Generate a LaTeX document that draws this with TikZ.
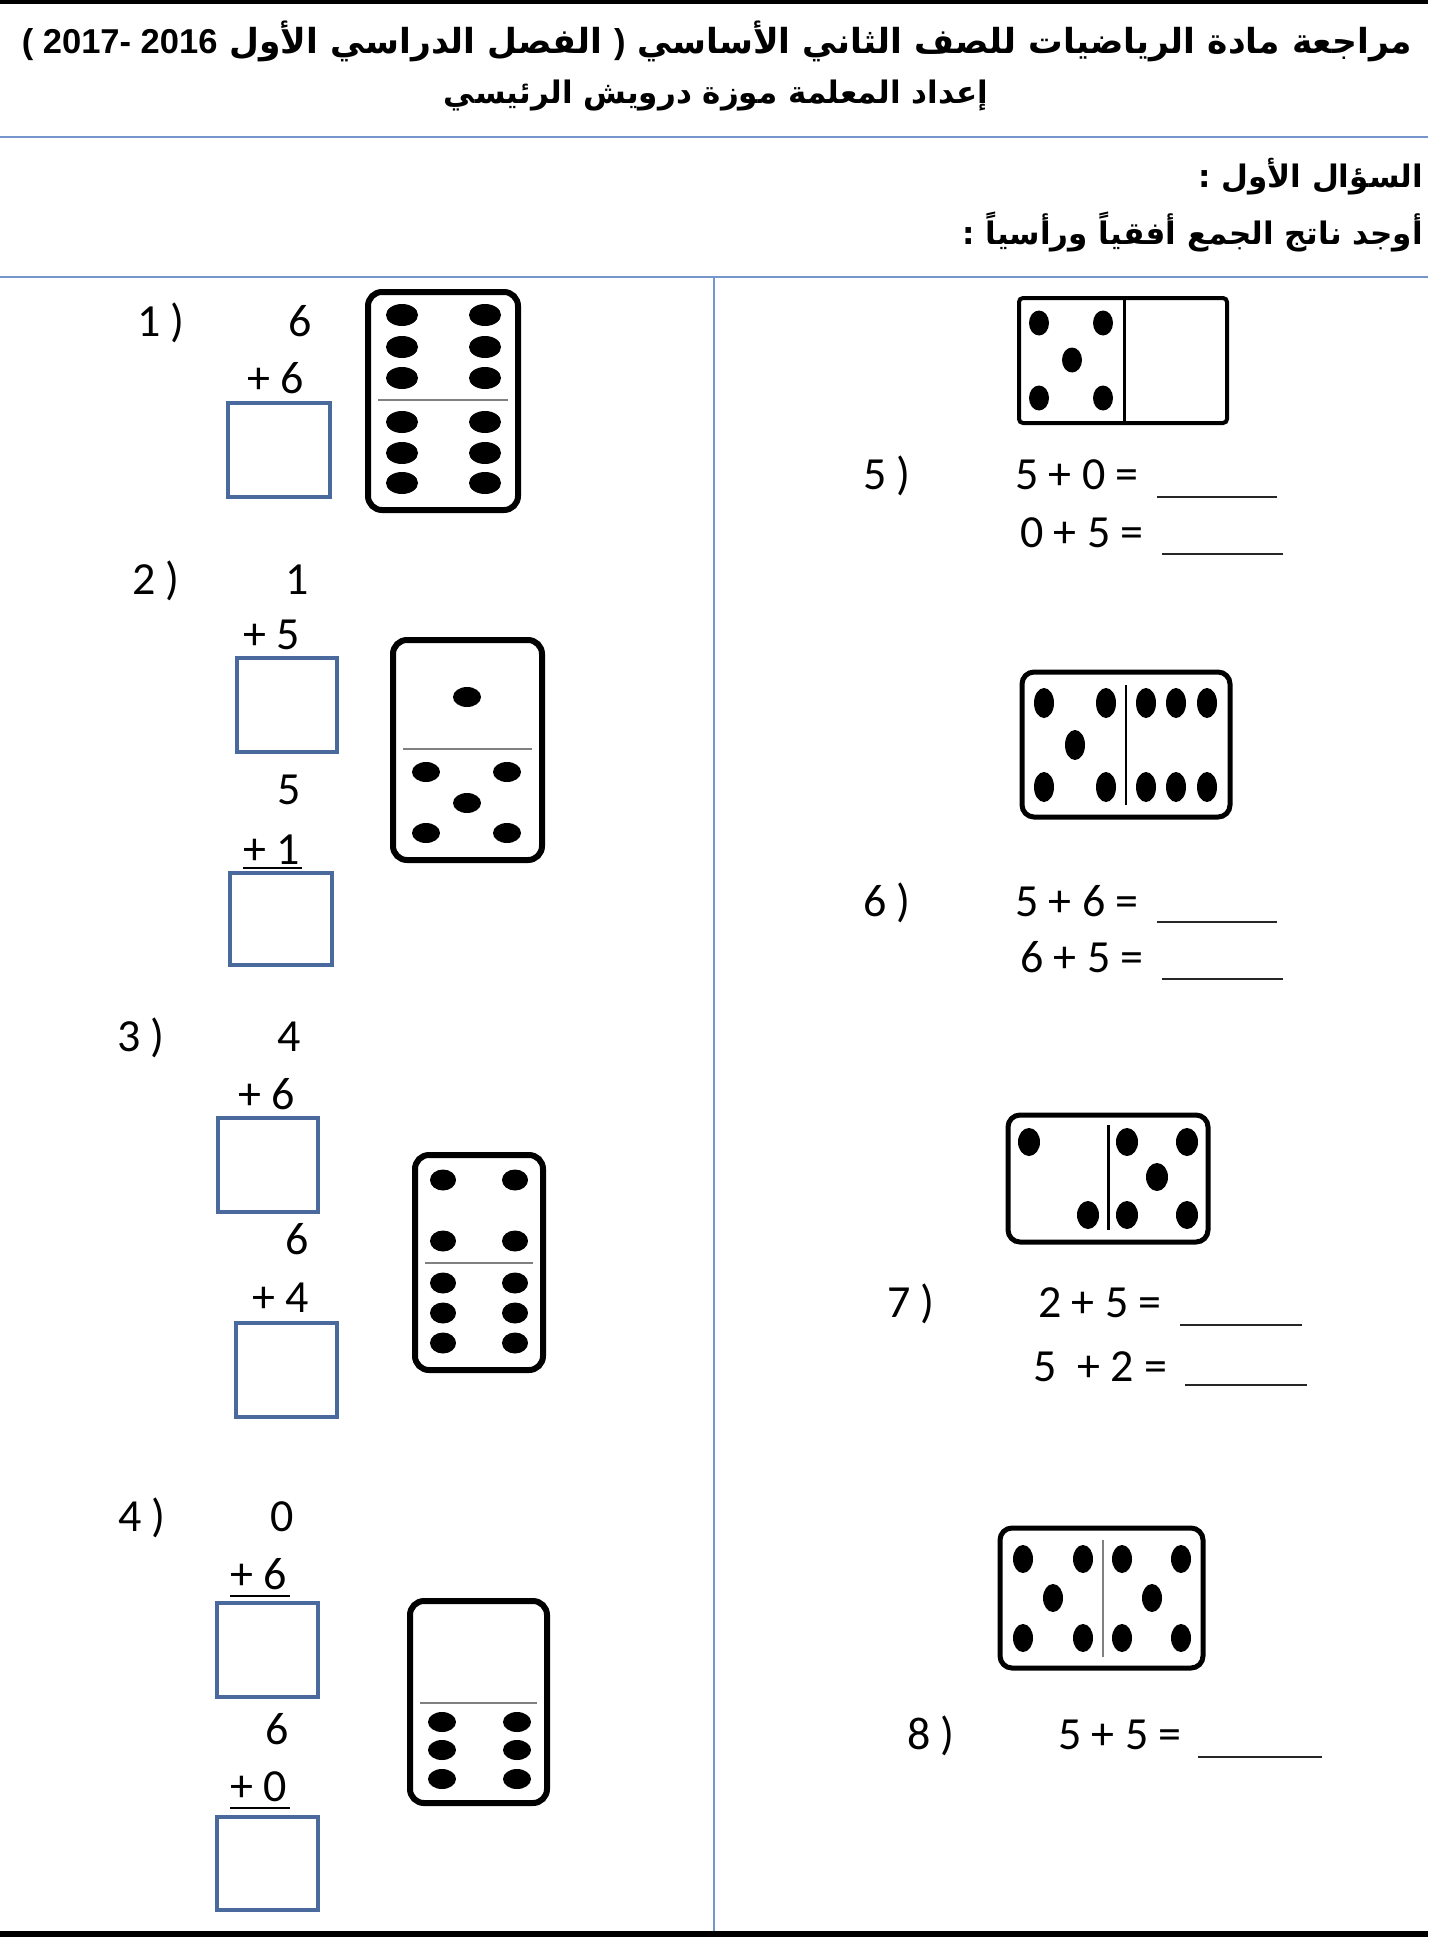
\documentclass[tikz,border=0pt]{standalone}
\usepackage{fontspec}
\setmainfont{Carlito}
\newfontfamily\arabicfont[Script=Arabic]{DejaVu Sans}
\newfontfamily\headfont{Liberation Sans}
\TeXXeTstate=1
\usepackage{xcolor}
\usetikzlibrary{
    positioning,
    calc
}
\definecolor{boxblue}{HTML}{4A6A9E}
\definecolor{ruleblue}{HTML}{7396CC}
\tikzset{
    num/.style={anchor=base west, inner sep=0pt, font=\fontsize{46}{54}\selectfont},
    heading/.style={inner sep=0pt, font=\arabicfont\bfseries\fontsize{31}{38}\selectfont},
    bigheading/.style={heading, font=\arabicfont\bfseries\fontsize{34.5}{40}\selectfont},
    ansbox/.style={draw=boxblue, line width=4pt},
    tile/.style={draw=black, line width=6pt, rounded corners=14pt},
    flattile/.style={draw=black, line width=5pt, rounded corners=12pt},
    midline/.style={draw=gray, line width=2.5pt},
    pip/.style={fill=black},
    blank/.style={draw=black!85, line width=2pt},
    sumline/.style={draw=black, line width=2pt}
}

\begin{document}
\begin{tikzpicture}[x=1pt, y=-1pt]
    \useasboundingbox (0,0) rectangle (1428,1937);
    % frame
    \fill (0,0) rectangle (1428,4);
    \fill (0,1931) rectangle (1428,1937);
    \draw[ruleblue, line width=2.5pt] (0,137) -- (1428,137);
    \draw[ruleblue, line width=2.5pt] (0,277) -- (1428,277);
    \draw[ruleblue, line width=2.5pt] (714,277) -- (714,1931);

    % heading
    \node[bigheading] (title) at (717,41) {\beginR مراجعة مادة الرياضيات للصف الثاني الأساسي \beginL{\headfont )}\endL{} الفصل الدراسي الأول \beginL{\headfont ( 2017- 2016}\endL\endR};
    \node[heading] (teacher) at (716,96) {\beginR إعداد المعلمة موزة درويش الرئيسي\endR};
    \node[heading, anchor=east] (question) at (1423,177) {\beginR السؤال الأول :\endR};
    \node[heading, anchor=east] (task) at (1423,232) {\beginR أوجد ناتج الجمع أفقياً ورأسياً :\endR};

    % 1)
    \node[num] (n1) at (137,336) {1 )};
    \node[num] (a1) at (288,336) {6};
    \node[num] (b1) at (247,393) {+ 6};
    \draw[ansbox] (228,403) rectangle (330,497);
    \draw[tile] (368,292) rectangle (518,510);
    \draw[midline] (378,400) -- (508,400);
    \foreach \x in {402,485}
        \foreach \y in {315,347,378,422,453,483}
            \fill[pip] (\x,\y) ellipse (16pt and 11pt);

    % 2)
    \node[num] (n2) at (132,594) {2 )};
    \node[num] (a2) at (285,594) {1};
    \node[num] (b2) at (243,649) {+ 5};
    \draw[ansbox] (237,658) rectangle (337,752);
    \node[num] (c2) at (277,804) {5};
    \node[num] (d2) at (243,864) {+ 1};
    \draw[sumline] (243,868) -- (302,868);
    \draw[ansbox] (230,873) rectangle (332,965);
    \draw[tile] (393,640) rectangle (542,860);
    \draw[midline] (403,749) -- (532,749);
    \foreach \x/\y in {467/697,426/772,507/772,467/803,426/833,507/833}
        \fill[pip] (\x,\y) ellipse (14pt and 10pt);

    % 3)
    \node[num] (n3) at (117,1051) {3 )};
    \node[num] (a3) at (277,1051) {4};
    \node[num] (b3) at (238,1109) {+ 6};
    \draw[ansbox] (218,1118) rectangle (318,1212);
    \node[num] (c3) at (285,1254) {6};
    \node[num] (d3) at (252,1312) {+ 4};
    \draw[ansbox] (236,1323) rectangle (337,1417);
    \draw[tile] (415,1155) rectangle (543,1370);
    \draw[midline] (425,1263) -- (533,1263);
    \foreach \x in {443,515}
        \foreach \y in {1180,1241,1283,1313,1343}
            \fill[pip] (\x,\y) ellipse (13pt and 10.5pt);

    % 4)
    \node[num] (n4) at (118,1531) {4 )};
    \node[num] (a4) at (270,1531) {0};
    \node[num] (b4) at (230,1589) {+ 6};
    \draw[sumline] (230,1596) -- (290,1596);
    \draw[ansbox] (217,1603) rectangle (318,1697);
    \node[num] (c4) at (265,1744) {6};
    \node[num] (d4) at (230,1801) {+ 0};
    \draw[sumline] (230,1808) -- (290,1808);
    \draw[ansbox] (217,1817) rectangle (318,1910);
    \draw[tile] (410,1601) rectangle (547,1803);
    \draw[midline] (420,1703) -- (537,1703);
    \foreach \x in {442,517}
        \foreach \y in {1722,1750,1779}
            \fill[pip] (\x,\y) ellipse (14pt and 10pt);

    % 5)
    \draw[black, line width=4pt, rounded corners=4pt] (1019,298) rectangle (1227,423);
    \draw[black, line width=3pt] (1124,298) -- (1124,423);
    \foreach \x/\y in {1039/323,1103/323,1072/360,1039/398,1103/398}
        \fill[pip] (\x,\y) ellipse (10pt and 12.5pt);
    \node[num] (n5) at (863,489) {5 )};
    \node[num] (p5) at (1015,489) {5 + 0 =};
    \draw[blank] (1157,497) -- (1277,497);
    \node[num] (q5) at (1020,547) {0 + 5 =};
    \draw[blank] (1162,554) -- (1283,554);

    % 6)
    \draw[flattile] (1022,672) rectangle (1230,817);
    \draw[black, line width=2pt] (1126,685) -- (1126,805);
    \foreach \x/\y in {1044/703,1106/703,1075/745,1044/787,1106/787,
                       1146/703,1176/703,1207/703,1146/787,1176/787,1207/787}
        \fill[pip] (\x,\y) ellipse (10pt and 15pt);
    \node[num] (n6) at (863,916) {6 )};
    \node[num] (p6) at (1015,916) {5 + 6 =};
    \draw[blank] (1157,922) -- (1277,922);
    \node[num] (q6) at (1020,972) {6 + 5 =};
    \draw[blank] (1162,979) -- (1283,979);

    % 7)
    \draw[flattile] (1008,1115) rectangle (1208,1242);
    \draw[black, line width=3pt] (1108,1125) -- (1108,1230);
    \foreach \x/\y in {1029/1142,1088/1215,
                       1127/1142,1187/1142,1157/1177,1127/1215,1187/1215}
        \fill[pip] (\x,\y) ellipse (11pt and 14pt);
    \node[num] (n7) at (887,1317) {7 )};
    \node[num] (p7) at (1038,1317) {2 + 5 =};
    \draw[blank] (1180,1325) -- (1302,1325);
    \node[num] (q7) at (1033,1381) {5~~+ 2 =};
    \draw[blank] (1185,1385) -- (1307,1385);

    % 8)
    \draw[flattile] (1000,1528) rectangle (1203,1668);
    \draw[midline] (1103,1540) -- (1103,1657);
    \foreach \x/\y in {1023/1559,1083/1559,1053/1598,1023/1638,1083/1638,
                       1122/1559,1181/1559,1152/1598,1122/1638,1181/1638}
        \fill[pip] (\x,\y) ellipse (10pt and 14pt);
    \node[num] (n8) at (907,1749) {8 )};
    \node[num] (p8) at (1058,1749) {5 + 5 =};
    \draw[blank] (1198,1757) -- (1322,1757);
\end{tikzpicture}
\end{document}
